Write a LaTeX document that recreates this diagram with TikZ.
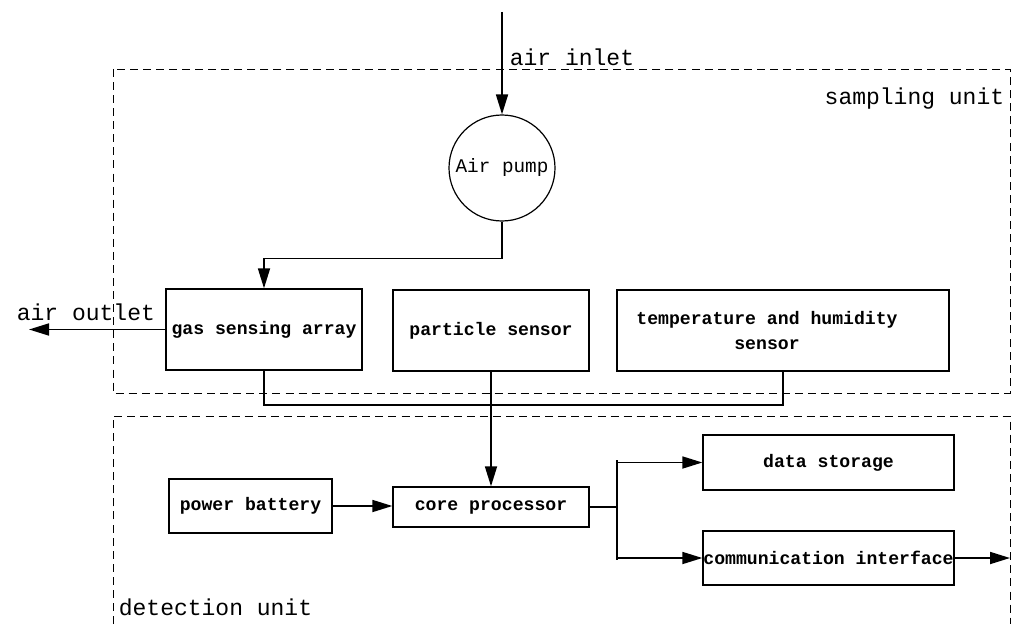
\documentclass[tikz,border=0pt]{standalone}
\usepackage{fontspec}
\setmainfont{Liberation Mono}
\usetikzlibrary{arrows.meta}
\begin{document}
\begin{tikzpicture}[x=0.75pt,y=-0.75pt,
  line width=1.3pt,
  box/.style={draw, line width=1pt, inner sep=0pt, font=\fontsize{13.6pt}{16pt}\selectfont\bfseries},
  boxtext/.style={inner sep=0pt, align=center, font=\fontsize{13.6pt}{18.75pt}\selectfont\bfseries},
  big/.style={inner sep=0pt, font=\fontsize{17.25pt}{20pt}\selectfont},
  region/.style={draw, dash pattern=on 6pt off 3.8pt, line width=0.7pt},
  arr/.style={-{Triangle[length=15pt,width=9pt]}}
]
\useasboundingbox (0,0) rectangle (1016,624);

% regions
\draw[region] (113,69) rectangle (1010,393);
\draw[region] (113,624) -- (113,416) -- (1010,416) -- (1010,624);

% nodes
\node[draw, circle, line width=0.9pt, minimum size=79.5pt, inner sep=0pt,
      font=\fontsize{14.5pt}{17pt}\selectfont] (pump) at (502,168) {Air pump};
\node[box, minimum width=147pt, minimum height=60.75pt] (gas) at (264,329.5) {gas sensing array};
\node[box, minimum width=147pt, minimum height=60.75pt] (part) at (491,330.5) {particle sensor};
\node[box, minimum width=249pt, minimum height=60.75pt] (temp) at (783,330.5) {};
\node[boxtext] (templabel) at (767,330.5) {temperature and humidity\\sensor};
\node[box, minimum width=147pt, minimum height=30pt] (core) at (491,507) {core processor};
\node[box, minimum width=122.25pt, minimum height=40.5pt] (pow) at (250.5,506) {power battery};
\node[box, minimum width=188.25pt, minimum height=41.25pt] (ds) at (828.5,462.5) {data storage};
\node[box, minimum width=188.25pt, minimum height=40.5pt] (ci) at (828.5,558) {communication interface};

% labels
\node[big, anchor=base west] (inlabel) at (509,66) {air inlet};
\node[big, anchor=base west] (outlabel) at (16,320) {air outlet};
\node[big, anchor=base east] (samplabel) at (1005,105) {sampling unit};
\node[big, anchor=base west] (detlabel) at (118,615) {detection unit};

% coordinates
\coordinate (inlet) at (502,12);
\coordinate (outlet) at (29,329.5);
\coordinate (split) at (617,507);
\coordinate (bt) at (617,460);
\coordinate (bb) at (617,560);
\coordinate (cout) at (1010,558);

% connectors
\draw[arr] (inlet) -- (pump.north);
\draw[arr] (pump.south) -- ++(0,37) -| (gas.north);
\draw[arr] (gas.west) -- (outlet);
\draw (gas.south) -- ++(0,34) -| (temp.south);
\draw[arr] (part.south) -- (core.north);
\draw[arr] (pow.east) -- (pow.east -| core.west);
\draw (core.east) -- (split);
\draw (bt) -- (bb);
\draw[arr] (bt |- ds.west) -- (ds.west);
\draw[arr] (bt |- ci.west) -- (ci.west);
\draw[arr] (ci.east) -- (cout);
\end{tikzpicture}
\end{document}
